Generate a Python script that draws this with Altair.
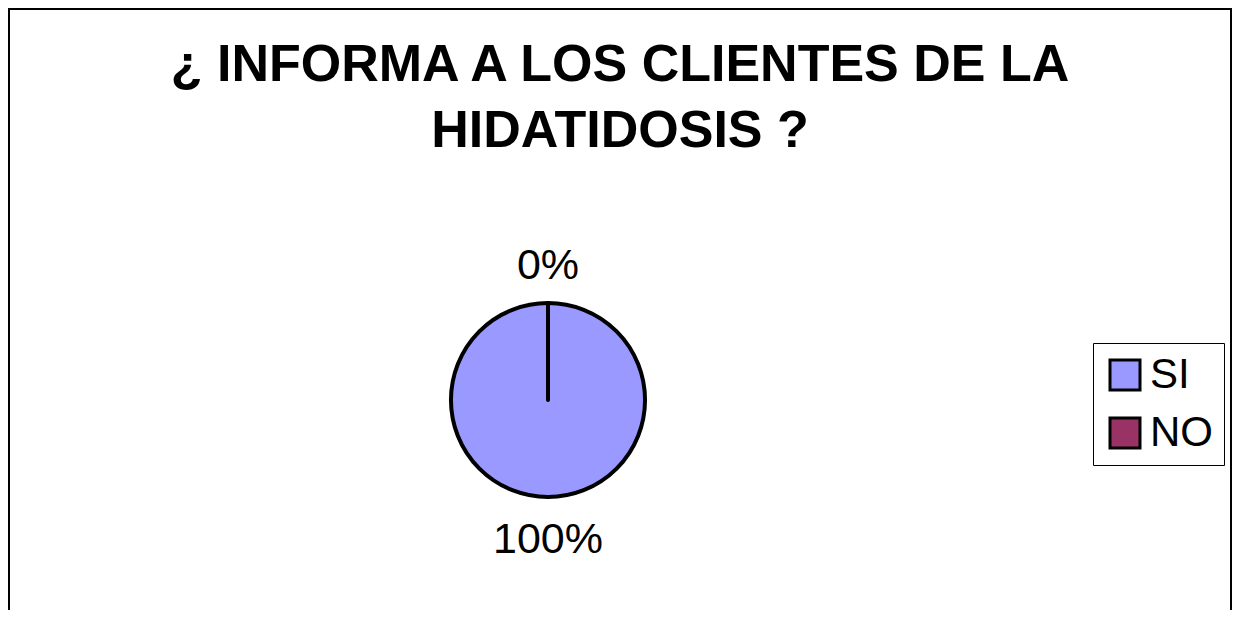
import altair as alt
import pandas as pd

# ---- data ----
CATEGORIES = ["SI", "NO"]
VALUES = [100, 0]
PCT_LABELS = ["100%", "0%"]
COLORS = ["#9999FF", "#993366"]
TITLE_LINES = ["¿ INFORMA A LOS CLIENTES DE LA", "HIDATIDOSIS ?"]

FONT = "Liberation Sans"

pie_df = pd.DataFrame({
    "cat": CATEGORIES,
    "value": VALUES,
    "label": PCT_LABELS,
    "idx": list(range(len(CATEGORIES))),
})

W, H = 1224, 602
CX, CY = 540, 392

theta = alt.Theta("value:Q", stack=True)
order = alt.Order("idx:Q", sort="ascending")

pie = alt.Chart(pie_df).mark_arc(
    radius=97, stroke="black", strokeWidth=4, strokeJoin="round", strokeCap="round"
).encode(
    theta=theta,
    order=order,
    x=alt.value(CX),
    y=alt.value(CY),
    color=alt.Color(
        "cat:N",
        scale=alt.Scale(domain=CATEGORIES, range=COLORS),
        legend=alt.Legend(
            title=None,
            orient="none",
            legendX=1085,
            legendY=335,
            symbolType="square",
            symbolSize=900,
            symbolStrokeColor="black",
            symbolStrokeWidth=3,
            symbolOpacity=1,
            labelFontSize=42,
            labelFont=FONT,
            labelColor="black",
            labelOffset=4,
            strokeColor="black",
            fillColor="white",
            padding=11,
            rowPadding=16,
        ),
    ),
)

labels = alt.Chart(pie_df).mark_text(
    radius=137, fontSize=43, font=FONT, color="black",
    align="center", baseline="middle", dy=3
).encode(
    theta=theta,
    order=order,
    x=alt.value(CX),
    y=alt.value(CY),
    text="label:N",
)

def title_line(i, ybase):
    return alt.Chart(pd.DataFrame({"t": [TITLE_LINES[i]]})).mark_text(
        fontSize=52, fontWeight="bold", font=FONT, color="black",
        align="center", baseline="alphabetic"
    ).encode(
        x=alt.value(612), y=alt.value(ybase), text="t:N"
    )

one = pd.DataFrame({"a": [0]})

def rule(**enc):
    return alt.Chart(one).mark_rule(color="black", strokeWidth=2).encode(**enc)

frame = [
    rule(x=alt.value(1), y=alt.value(1), y2=alt.value(H)),
    rule(x=alt.value(1223), y=alt.value(1), y2=alt.value(H)),
    rule(x=alt.value(0), x2=alt.value(1224), y=alt.value(1)),
]

chart = alt.layer(
    *frame, pie, labels, title_line(0, 73), title_line(1, 139)
).properties(
    width=W, height=H, padding=0, autosize=alt.AutoSizeParams(type="none"),
    background="white",
).configure_view(strokeWidth=0)

chart.save("out.html", embed_options={"renderer": "svg", "actions": False})
